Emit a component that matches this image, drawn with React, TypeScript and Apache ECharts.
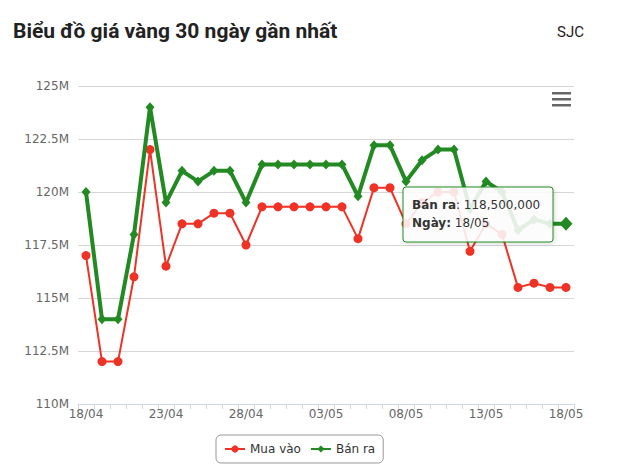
import React, { useEffect, useRef } from "react";
import * as echarts from "echarts";

const dates = [
  "18/04", "19/04", "20/04", "21/04", "22/04", "23/04", "24/04", "25/04", "26/04", "27/04",
  "28/04", "29/04", "30/04", "01/05", "02/05", "03/05", "04/05", "05/05", "06/05", "07/05",
  "08/05", "09/05", "10/05", "11/05", "12/05", "13/05", "14/05", "15/05", "16/05", "17/05", "18/05",
];

// Mua vào (buy), VND
const buyPrices = [
  117000000, 112000000, 112000000, 116000000, 122000000, 116500000, 118500000, 118500000, 119000000, 119000000,
  117500000, 119300000, 119300000, 119300000, 119300000, 119300000, 119300000, 117800000, 120200000, 120200000,
  118500000, 119500000, 120000000, 120000000, 117200000, 118500000, 118000000, 115500000, 115700000, 115500000, 115500000,
];

// Bán ra (sell), VND
const sellPrices = [
  120000000, 114000000, 114000000, 118000000, 124000000, 119500000, 121000000, 120500000, 121000000, 121000000,
  119500000, 121300000, 121300000, 121300000, 121300000, 121300000, 121300000, 119800000, 122200000, 122200000,
  120500000, 121500000, 122000000, 122000000, 119200000, 120500000, 120000000, 118200000, 118700000, 118500000, 118500000,
];

const yMin = 110000000;
const yMax = 125000000;
const yStep = 2500000;

const RED = "#ee3226";
const GREEN = "#238a23";

export default function App() {
  const ref = useRef<HTMLDivElement>(null);

  useEffect(() => {
    document.body.style.margin = "0";
    const chart = echarts.init(ref.current as HTMLDivElement, null, { renderer: "svg" });
    const last = dates.length - 1;
    const hoverValue = sellPrices[last].toLocaleString("en-US");

    chart.setOption({
      animation: false,
      backgroundColor: "#ffffff",
      title: [
        {
          text: "Biểu đồ giá vàng 30 ngày gần nhất",
          left: 13,
          top: 20,
          padding: 0,
          textStyle: { fontFamily: "Roboto", fontWeight: "bold", fontSize: 21, color: "#222222" },
        },
        {
          text: "SJC",
          left: 557,
          top: 24,
          padding: 0,
          textStyle: { fontFamily: "Roboto", fontWeight: "normal", fontSize: 15, color: "#222222" },
        },
      ],
      grid: { left: 78, right: 45, top: 86, bottom: 71, containLabel: false },
      legend: {
        left: 216,
        top: 435,
        padding: [8, 8, 8, 8],
        itemWidth: 20,
        itemHeight: 9,
        itemGap: 9,
        borderColor: "#999999",
        borderWidth: 1,
        borderRadius: 5,
        textStyle: { fontFamily: "DejaVu Sans", fontSize: 12, color: "#333333" },
        data: ["Mua vào", "Bán ra"],
      },
      xAxis: {
        type: "category",
        data: dates,
        boundaryGap: true,
        axisLine: { show: true, lineStyle: { color: "#ccd6eb", width: 1 } },
        axisTick: { show: true, interval: 0, length: 5, lineStyle: { color: "#ccd6eb" } },
        axisLabel: {
          interval: 4,
          margin: 4,
          color: "#666666",
          fontFamily: "DejaVu Sans",
          fontSize: 12,
        },
        splitLine: { show: false },
      },
      yAxis: {
        type: "value",
        min: yMin,
        max: yMax,
        interval: yStep,
        axisLine: { show: false },
        axisTick: { show: false },
        axisLabel: {
          margin: 9,
          color: "#666666",
          fontFamily: "DejaVu Sans",
          fontSize: 12,
          formatter: (v: number) => `${v / 1000000}M`,
        },
        splitLine: { show: true, lineStyle: { color: "#d6d6d6", width: 1 } },
      },
      series: [
        {
          name: "Mua vào",
          type: "line",
          data: buyPrices,
          symbol: "circle",
          symbolSize: 9,
          showAllSymbol: true,
          lineStyle: { color: RED, width: 2 },
          itemStyle: { color: RED },
          z: 2,
        },
        {
          name: "Bán ra",
          type: "line",
          data: sellPrices.map((v, i) =>
            i === last ? { value: v, symbolSize: [13, 14] } : v
          ),
          symbol: "diamond",
          symbolSize: [9, 10],
          showAllSymbol: true,
          lineStyle: { color: GREEN, width: 4 },
          itemStyle: { color: GREEN },
          z: 3,
        },
      ],
      graphic: {
        elements: [
          { type: "rect", z: 100, zlevel: 0, x: 552, y: 92, shape: { width: 19, height: 2.5 }, style: { fill: "#666666" } },
          { type: "rect", z: 100, zlevel: 0, x: 552, y: 98, shape: { width: 19, height: 2.5 }, style: { fill: "#666666" } },
          { type: "rect", z: 100, zlevel: 0, x: 552, y: 104, shape: { width: 19, height: 2.5 }, style: { fill: "#666666" } },
          {
            type: "rect",
            z: 100,
            zlevel: 0,
            x: 403,
            y: 187,
            shape: { width: 150, height: 55, r: 3 },
            style: {
              fill: "rgba(255,255,255,0.86)",
              stroke: GREEN,
              lineWidth: 1,
              shadowBlur: 4,
              shadowOffsetX: 1,
              shadowOffsetY: 1,
              shadowColor: "rgba(0,0,0,0.18)",
            },
          },
          {
            type: "text",
            z: 101,
            zlevel: 0,
            x: 412,
            y: 196,
            style: {
              text: `{b|Bán ra}: ${hoverValue}\n{b|Ngày:} ${dates[last]}`,
              fontFamily: "DejaVu Sans",
              fontSize: 12,
              lineHeight: 18,
              fill: "#333333",
              rich: {
                b: { fontWeight: "bold", fontFamily: "DejaVu Sans", fontSize: 12, lineHeight: 18, fill: "#333333" },
              },
            },
          },
        ],
      },
    });

    return () => chart.dispose();
  }, []);

  return <div ref={ref} style={{ width: 619, height: 475 }} />;
}
